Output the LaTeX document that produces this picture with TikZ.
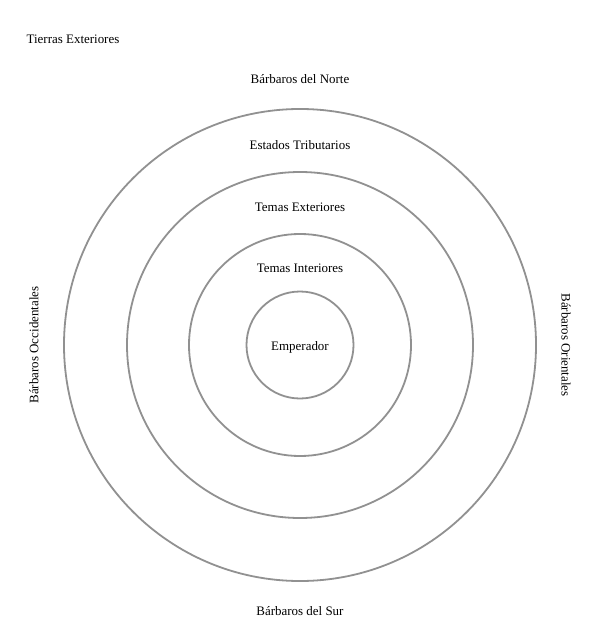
\documentclass[tikz,border=0pt]{standalone}
\usepackage{fontspec}
\setmainfont{Liberation Serif}
\begin{document}
\begin{tikzpicture}[x=1bp,y=-1bp,
  ring/.style={circle,draw=ringgray,line width=1.8bp,inner sep=0pt},
  lbl/.style={font=\fontsize{13}{15}\selectfont,inner sep=0pt,text=black}]
\definecolor{ringgray}{RGB}{145,145,145}
\useasboundingbox[fill=white] (0,0) rectangle (601,641);
\coordinate (ctr) at (300,345);
\node[ring,minimum size=472bp] (r4) at (ctr) {};
\node[ring,minimum size=346bp] (r3) at (ctr) {};
\node[ring,minimum size=222bp] (r2) at (ctr) {};
\node[ring,minimum size=107bp] (r1) at (ctr) {};
\node[lbl] (emp) at (300,347) {Emperador};
\node[lbl] (ti) at (300,268) {Temas Interiores};
\node[lbl] (te) at (300,207) {Temas Exteriores};
\node[lbl] (et) at (300,145) {Estados Tributarios};
\node[lbl] (bn) at (300,79) {Bárbaros del Norte};
\node[lbl] (bs) at (300,611) {Bárbaros del Sur};
\node[lbl,rotate=90] (bo) at (34,345) {Bárbaros Occidentales};
\node[lbl,rotate=-90] (be) at (566,345) {Bárbaros Orientales};
\node[lbl] (tx) at (73,39) {Tierras Exteriores};
\end{tikzpicture}
\end{document}
